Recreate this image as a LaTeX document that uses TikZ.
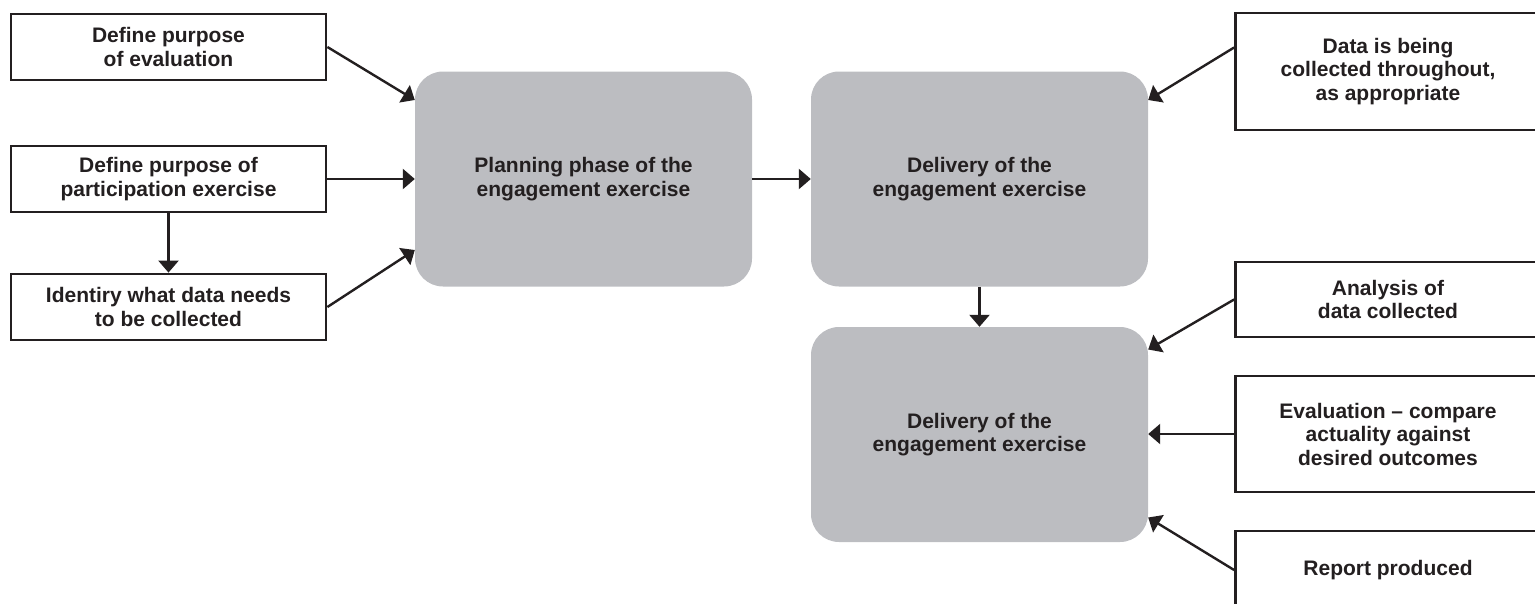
\documentclass[tikz,border=0pt]{standalone}
\usepackage{fontspec}
\setmainfont{Liberation Sans}
\usetikzlibrary{arrows.meta}

\definecolor{phasegrey}{HTML}{BCBDC1}
\definecolor{ink}{HTML}{231F20}

\begin{document}
\begin{tikzpicture}[> = {Triangle[length = 12pt, width = 20pt]}, x = 1pt, y = -1pt,
	task/.style = {draw = ink, line width = 2.8pt, fill = white, align = center, inner sep = 0pt,
		text = ink, font = \fontsize{21}{23.5}\selectfont\bfseries},
	phase/.style = {fill = phasegrey, rounded corners = 28pt, align = center,
		minimum width = 337pt, minimum height = 215pt,
		text = ink, font = \fontsize{21}{23.5}\selectfont\bfseries},
	link/.style = {->, draw = ink, line width = 2.4pt}]

	% Page, in pixels of the figure; right column runs off the edge

	\useasboundingbox (0, 0) rectangle (1535, 603);
	\clip (0, 0) rectangle (1535, 603);

	% Definitions

	\def\L{168.5}		% Centre of left column
	\def\R{1388}		% Centre of right column

	% Left column

	\node [task, minimum width = 315pt, minimum height = 66pt] (purpose) at (\L, 47) {Define purpose\\of evaluation};
	\node [task, minimum width = 315pt, minimum height = 66pt] (aim) at (\L, 179) {Define purpose of\\participation exercise};
	\node [task, minimum width = 315pt, minimum height = 66pt] (identify) at (\L, 307) {Identiry what data needs\\to be collected};

	% Phases

	\node [phase] (planning) at (583.5, 179) {Planning phase of the\\engagement exercise};
	\node [phase] (delivery) at (979.5, 179) {Delivery of the\\engagement exercise};
	\node [phase] (review) at (979.5, 434.5) {Delivery of the\\engagement exercise};

	% Right column

	\node [task, minimum width = 305pt, minimum height = 117pt] (collect) at (\R, 71.5) {Data is being\\collected throughout,\\as appropriate};
	\node [task, minimum width = 305pt, minimum height = 75pt] (analysis) at (\R, 299.5) {Analysis of\\data collected};
	\node [task, minimum width = 305pt, minimum height = 116pt] (evaluation) at (\R, 434) {Evaluation -- compare\\actuality against\\desired outcomes};
	\node [task, minimum width = 305pt, minimum height = 78pt] (report) at (\R, 570) {Report produced};

	% Arrows

	\draw [link] (purpose.east) -- ([yshift = 79pt]planning.west);
	\draw [link] (aim.east) -- (aim.east -| planning.west);
	\draw [link] (aim.south) -- (identify.north);
	\draw [link] (identify.east) -- ([yshift = -71pt]planning.west);
	\draw [link] (planning.east) -- (delivery.west);
	\draw [link] ([yshift = 24pt]collect.west) -- ([yshift = 79pt]delivery.east);
	\draw [link] (delivery.south) -- (review.north);
	\draw [link] (analysis.west) -- ([yshift = 85pt]review.east);
	\draw [link] (evaluation.west) -- (evaluation.west -| review.east);
	\draw [link] (report.west) -- ([yshift = -83pt]review.east);

\end{tikzpicture}
\end{document}
